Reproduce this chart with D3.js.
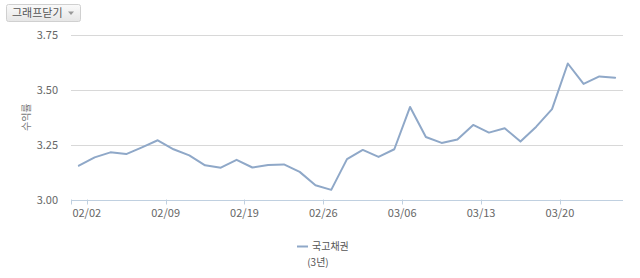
<!DOCTYPE html>
<html><head><meta charset="utf-8">
<script src="https://cdn.jsdelivr.net/npm/d3@7"></script>
<style>
html,body{margin:0;padding:0;background:#fff;}
svg{display:block;font-family:"Noto Sans CJK KR","Noto Sans",sans-serif;}
</style></head>
<body>
<svg id="c" width="640" height="278"></svg>
<script>
const dates = ["01/30","02/02","02/03","02/04","02/05","02/06","02/09","02/10","02/11","02/12","02/13",
"02/19","02/20","02/23","02/24","02/25","02/26","02/27","03/03","03/04","03/05","03/06",
"03/09","03/10","03/11","03/12","03/13","03/16","03/17","03/18","03/19","03/20","03/23","03/24","03/25"];
const yields = [3.154,3.192,3.215,3.207,3.238,3.270,3.229,3.201,3.156,3.145,3.181,
3.146,3.157,3.160,3.126,3.065,3.044,3.184,3.226,3.194,3.229,3.422,
3.285,3.258,3.274,3.340,3.305,3.325,3.264,3.332,3.412,3.620,3.527,3.561,3.555];
const tickLabels = ["02/02","02/09","02/19","02/26","03/06","03/13","03/20"];
const yTicks = [3.00,3.25,3.50,3.75];
const seriesName = "국고채권";
const seriesSub = "(3년)";
const yTitle = "수익률";
const buttonLabel = "그래프닫기";

const svg = d3.select("#c");
const L = 71, R = 623, T = 35, B = 199.5;
const x = d3.scaleBand().domain(dates).range([L, R]);
const y = d3.scaleLinear().domain([3.0, 3.75]).range([B, T]);

// gridlines
svg.append("g").selectAll("line").data(yTicks.filter(d => d > 3.0)).join("line")
  .attr("x1", L).attr("x2", R)
  .attr("y1", d => Math.round(y(d)) + 0.5).attr("y2", d => Math.round(y(d)) + 0.5)
  .attr("stroke", "#d8d8d8").attr("stroke-width", 1);

// y labels
svg.append("g").selectAll("text").data(yTicks).join("text")
  .attr("x", 58).attr("y", d => y(d) + 4)
  .attr("text-anchor", "end").attr("font-size", 11).attr("fill", "#666")
  .text(d => d3.format(".2f")(d));

// y title
svg.append("text").attr("transform", `translate(30,${(T + B) / 2}) rotate(-90)`)
  .attr("text-anchor", "middle").attr("font-size", 10).attr("fill", "#777").text(yTitle);

// x axis
const xa = svg.append("g");
xa.append("line").attr("x1", L).attr("x2", R).attr("y1", Math.round(B) + 0.5).attr("y2", Math.round(B) + 0.5)
  .attr("stroke", "#c0d0e0");
const tickPos = [L].concat(tickLabels.map(d => x(d)));
xa.selectAll("line.t").data(tickPos).join("line").attr("class", "t")
  .attr("x1", d => Math.round(d) + 0.5).attr("x2", d => Math.round(d) + 0.5)
  .attr("y1", B).attr("y2", B + 5).attr("stroke", "#c0d0e0");
xa.selectAll("text").data(tickLabels).join("text")
  .attr("x", d => x(d)).attr("y", B + 17)
  .attr("text-anchor", "middle").attr("font-size", 11).attr("fill", "#666").text(d => d);

// line
const line = d3.line().x((d, i) => x(dates[i]) + x.bandwidth() / 2).y(d => y(d));
svg.append("path").datum(yields).attr("d", line)
  .attr("fill", "none").attr("stroke", "#8fa8c8").attr("stroke-width", 2)
  .attr("stroke-linejoin", "round").attr("stroke-linecap", "round");

// legend
svg.append("line").attr("x1", 297).attr("x2", 308).attr("y1", 246.5).attr("y2", 246.5)
  .attr("stroke", "#8fa8c8").attr("stroke-width", 2);
svg.append("text").attr("x", 312).attr("y", 250).attr("font-size", 10).attr("fill", "#555").text(seriesName);
svg.append("text").attr("x", 318).attr("y", 266).attr("text-anchor", "middle").attr("font-size", 10).attr("fill", "#555").text(seriesSub);

// button
const defs = svg.append("defs");
const g = defs.append("linearGradient").attr("id", "bg").attr("x1", 0).attr("x2", 0).attr("y1", 0).attr("y2", 1);
g.append("stop").attr("offset", "0%").attr("stop-color", "#fafafa");
g.append("stop").attr("offset", "100%").attr("stop-color", "#e6e6e6");
svg.append("rect").attr("x", 6.5).attr("y", 4.5).attr("width", 74).attr("height", 17).attr("rx", 2)
  .attr("fill", "url(#bg)").attr("stroke", "#d0d0d0");
svg.append("text").attr("x", 12).attr("y", 17).attr("font-size", 11).attr("fill", "#555").text(buttonLabel);
svg.append("path").attr("d", "M68,11.5 L74,11.5 L71,15 Z").attr("fill", "#999");
</script>
</body></html>
